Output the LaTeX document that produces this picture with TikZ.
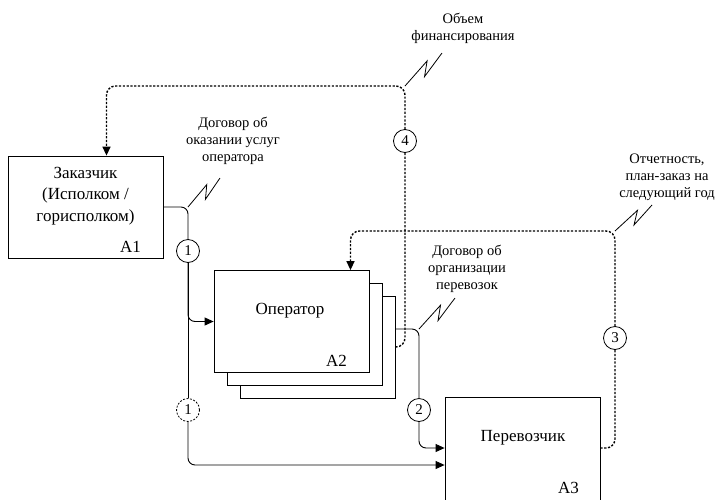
\documentclass[tikz,border=0pt]{standalone}
\usepackage{fontspec}
\setmainfont{Liberation Serif}
\usetikzlibrary{arrows.meta,calc,positioning}

\tikzset{
  blok/.style={draw, line width=0.8pt, fill=white, minimum width=155pt, minimum height=102pt, inner sep=0pt},
  num/.style={draw, circle, line width=0.8pt, minimum size=23pt, inner sep=0pt, fill=white, font=\fontsize{15}{15}\selectfont},
  lbl/.style={align=center, font=\fontsize{14.5}{17}\selectfont},
  btxt/.style={align=center, font=\fontsize{17}{21.5}\selectfont},
  flow/.style={line width=0.9pt, rounded corners=7pt},
  ctrl/.style={line width=1.4pt, dash pattern=on 2.2pt off 1.6pt, rounded corners=9pt},
  tip/.style={-{Triangle[length=9pt,width=8pt]}},
  bolt/.style={line width=0.8pt, to path={-- ($(\tikztostart)!.67!(\tikztotarget)!4pt!90:(\tikztotarget)$) -- ($(\tikztostart)!.42!(\tikztotarget)!6pt!-90:(\tikztotarget)$) -- (\tikztotarget)}}
}

\begin{document}
\begin{tikzpicture}[x=1pt, y=-1pt]
  \useasboundingbox (0,0) rectangle (723,499);

  % boxes
  \node[blok] (a1) at (85.5,207) {};
  \node[blok] (a2c) at (317.5,347) {};
  \node[blok] (a2b) at (304.5,334) {};
  \node[blok] (a2) at (291.5,321.5) {};
  \node[blok, minimum height=114pt] (a3) at (522.5,454) {};

  \node[btxt] (a1t) at (85.5,196) {Заказчик\\(Исполком /\\горисполком)};
  \node[btxt] (a2t) at (290,311) {Оператор};
  \node[btxt] (a3t) at (523,438) {Перевозчик};
  \node[btxt, anchor=base east] (a1n) at ($(a1.south east)+(-19,-6)$) {A1};
  \node[btxt, anchor=base east] (a2n) at ($(a2.south east)+(-19,-6)$) {A2};
  \node[btxt, anchor=base east] (a3n) at ($(a3.south east)+(-18,-18)$) {A3};

  % numbered circles
  \node[num] (n1) at (188,251) {1};
  \node[num, dash pattern=on 2pt off 1.5pt] (n1d) at (188,410) {1};
  \node[num] (n2) at (419,410) {2};
  \node[num] (n3) at (615,338) {3};
  \node[num] (n4) at (405,141) {4};

  \coordinate (c1) at (a1.east -| n1);
  \coordinate (a2out) at ($(a2c.east)+(0,-18)$);
  \coordinate (c2) at (a2out -| n2);
  \coordinate (c3) at (615,231);
  \coordinate (c4) at (405,86);
  \coordinate (a1in) at ($(a1.north)+(21,0)$);
  \coordinate (a2in) at ($(a2.north)+(59,0)$);
  \coordinate (a3w) at ($(a3.west)+(0,-6)$);
  \coordinate (a3in) at ($(a3w)+(0,17)$);
  \coordinate (a3e) at ($(a3.east)+(0,-6)$);

  % mechanisms / inputs
  \draw[flow] (a1.east) -| (n1.north);
  \draw[flow,tip] (n1.south) |- (a2.west);
  \draw[flow] (n1.south) -- (n1d.north);
  \draw[flow,tip] (n1d.south) |- (a3in);
  \draw[flow] (a2out) -| (n2.north);
  \draw[flow,tip] (n2.south) |- (a3w);

  % feedback
  \draw[ctrl] (a2c.east) -| (n4.south);
  \draw[ctrl,tip] (n4.north) -- (c4) -| (a1in);
  \draw[ctrl] (a3e) -| (n3.south);
  \draw[ctrl,tip] (n3.north) -- (c3) -| (a2in);

  % labels
  \node[lbl] (l1) at (233,141) {Договор об\\оказании услуг\\оператора};
  \node[lbl] (l2) at (467,269) {Договор об\\организации\\перевозок};
  \node[lbl] (l3) at (667,177) {Отчетность,\\план-заказ на\\следующий год};
  \node[lbl] (l4) at (463,28) {Объем\\финансирования};

  \draw[bolt] (c1) to (220,178);
  \draw[bolt] (c2) to (455,298);
  \draw[bolt] (c3) to (652,205);
  \draw[bolt] (c4) to (442,53);
\end{tikzpicture}
\end{document}
